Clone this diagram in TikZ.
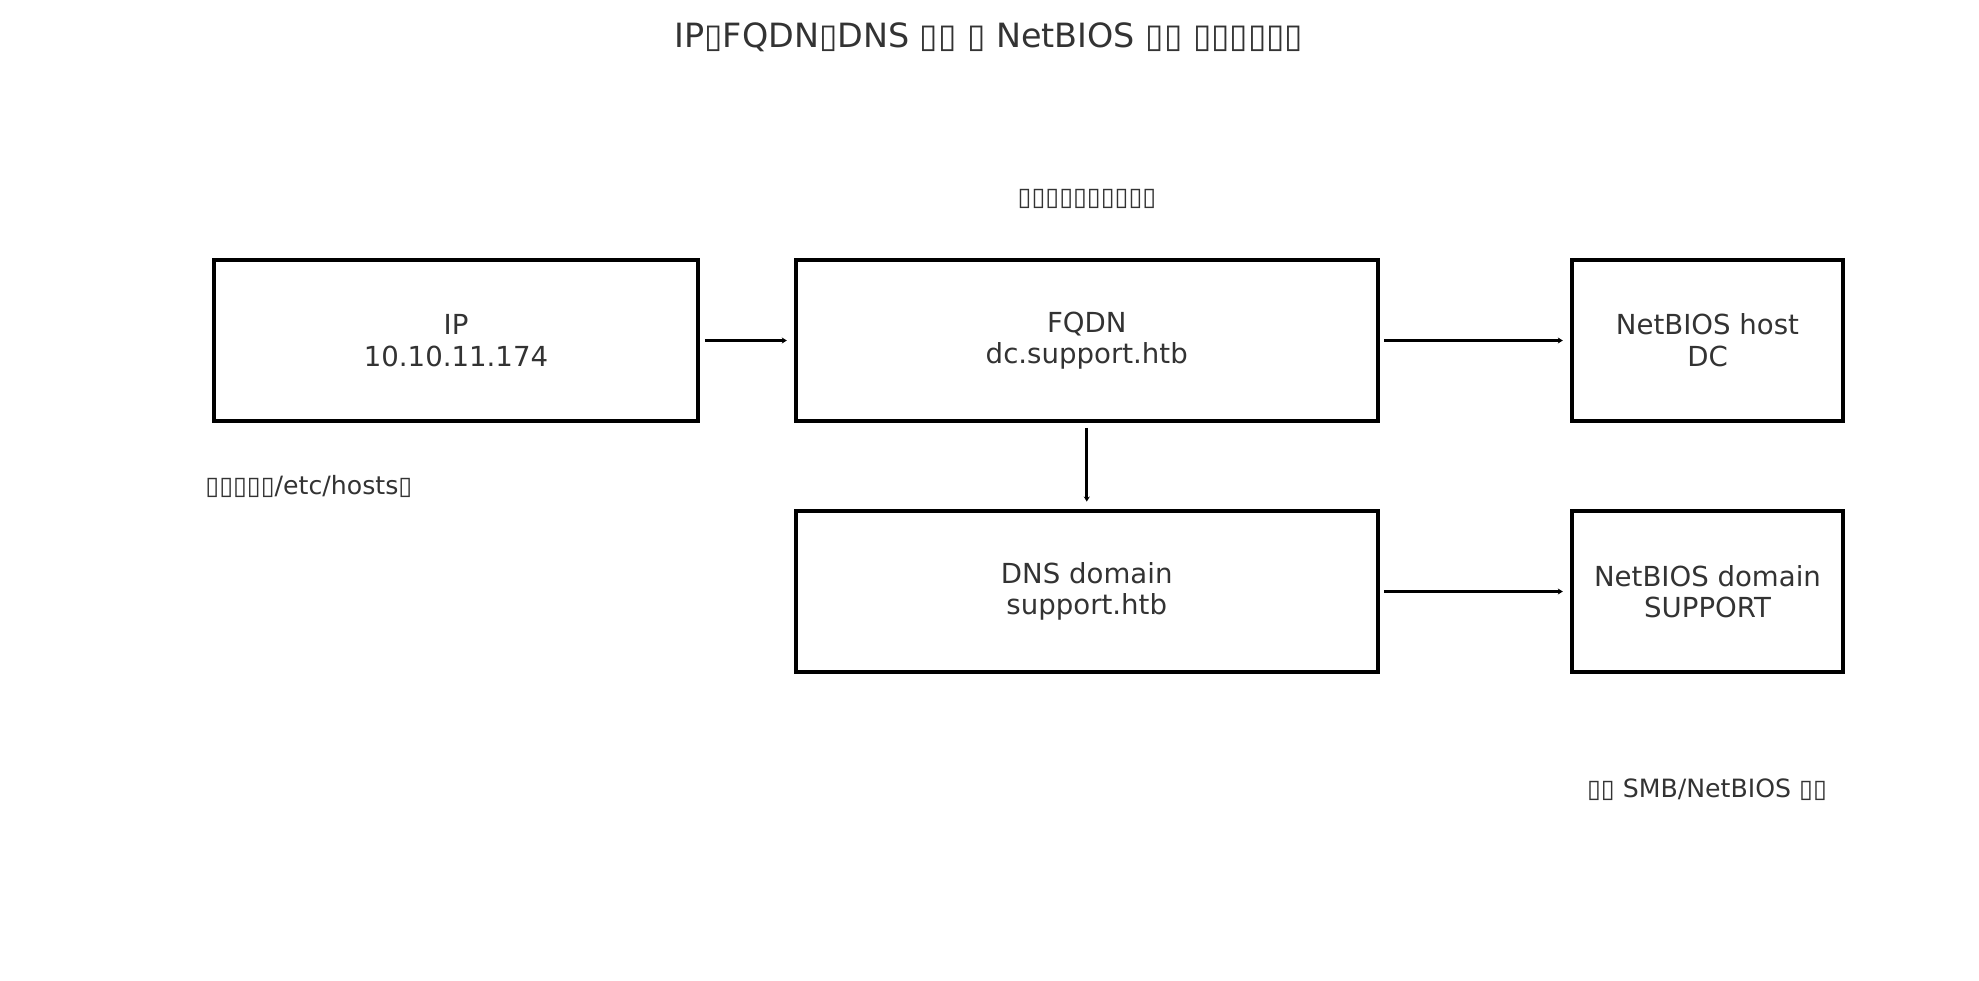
\documentclass[tikz,border=0pt]{standalone}
\usepackage{fontspec}
\setmainfont{DejaVu Sans}
\usetikzlibrary{arrows.meta}

\definecolor{inkgray}{HTML}{333333}

\tikzset{
  namebox/.style={draw=black, line width=2pt, inner sep=0pt, minimum height=80.75pt,
    align=center, text=inkgray, font=\fontsize{13.8}{15.8}\selectfont},
  sidenote/.style={inner sep=0pt, text=inkgray, font=\fontsize{12.6}{14.6}\selectfont},
  maplink/.style={line width=1.35pt, -{Stealth[length=2.5pt,width=3pt]},
    shorten <=2.3pt, shorten >=3.6pt}
}

\begin{document}
\begin{tikzpicture}[x=0.5pt, y=-0.5pt]
  \useasboundingbox (0,0) rectangle (1979,980);

  % title
  \node[inner sep=0pt, text=inkgray, font=\fontsize{16.7}{19}\selectfont] (title) at (989,37)
    {IP▯FQDN▯DNS ▯▯ ▯ NetBIOS ▯▯ ▯▯▯▯▯▯};

  % names
  \node[namebox, minimum width=242.2pt] (ip)   at (456,340.5)    {IP\\10.10.11.174};
  \node[namebox, minimum width=290.75pt] (fqdn) at (1086.75,340.5) {FQDN\\dc.support.htb};
  \node[namebox, minimum width=135.5pt] (host) at (1707.5,340.5)  {NetBIOS host\\DC};
  \node[namebox, minimum width=290.75pt] (dns)  at (1086.75,591.5) {DNS domain\\support.htb};
  \node[namebox, minimum width=135.5pt] (ndom) at (1707.5,591.5)  {NetBIOS domain\\SUPPORT};

  % notes
  \node[sidenote] (fqdnnote) at (1087,199) {▯▯▯▯▯▯▯▯▯▯};
  \node[sidenote, anchor=west] (hostsnote) at (205,486) {▯▯▯▯▯/etc/hosts▯};
  \node[sidenote] (smbnote) at (1707,790) {▯▯ SMB/NetBIOS ▯▯};

  % links
  \draw[maplink] (ip.east) -- (fqdn.west);
  \draw[maplink] (fqdn.east) -- (host.west);
  \draw[maplink] (fqdn.south) -- (dns.north);
  \draw[maplink] (dns.east) -- (ndom.west);
\end{tikzpicture}
\end{document}
